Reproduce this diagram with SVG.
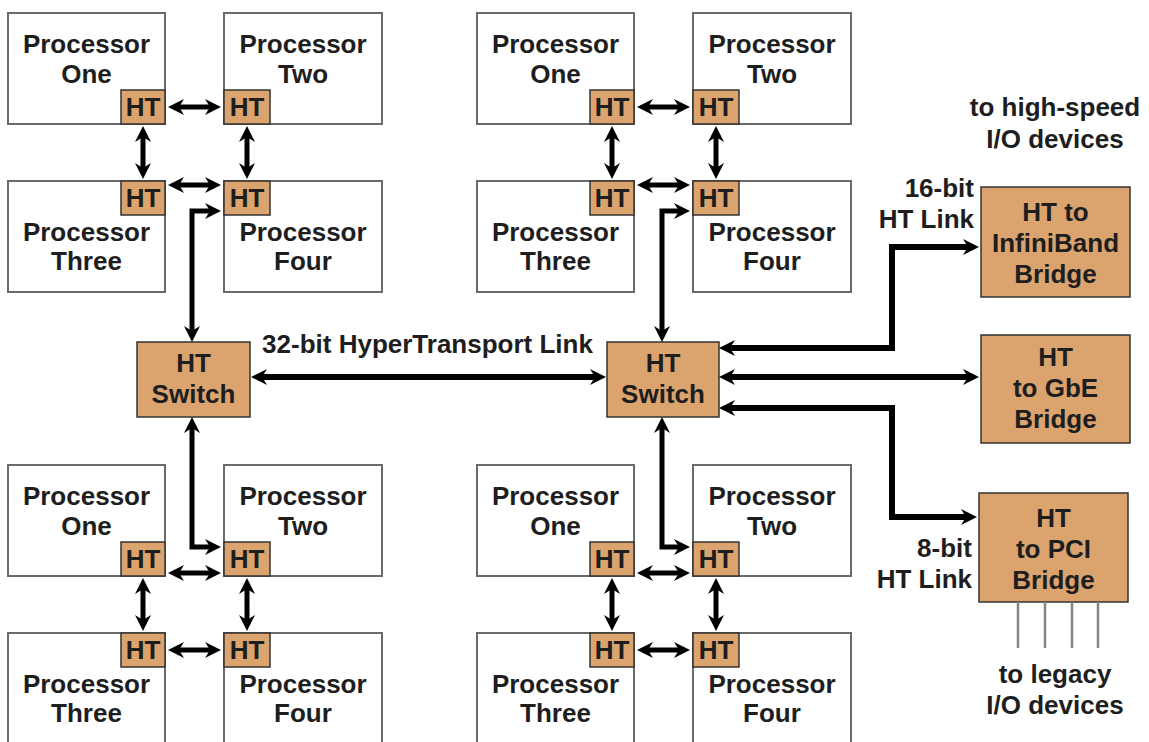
<svg xmlns="http://www.w3.org/2000/svg" width="1149" height="742" viewBox="0 0 1149 742">
<style>
.proc{fill:#fff;stroke:#6a6a6a;stroke-width:2}
.ht{fill:#DBA36E;stroke:#333;stroke-width:1.5}
.t{font-family:"Liberation Sans",Arial,sans-serif;font-weight:bold;font-size:26px;fill:#1e1e1e;text-anchor:middle}
.te{text-anchor:end}
.a{fill:none;stroke:#000;stroke-width:5;marker-start:url(#ah);marker-end:url(#ah)}
.b{fill:none;stroke:#000;stroke-width:6;marker-start:url(#ah);marker-end:url(#ah)}
.b1{fill:none;stroke:#000;stroke-width:6;marker-end:url(#ah)}
.b0{fill:none;stroke:#000;stroke-width:6;marker-start:url(#ah)}
.leg{stroke:#858585;stroke-width:2.5}
</style>
<defs>
<marker id="ah" viewBox="0 0 16 16" markerWidth="16" markerHeight="16" refX="6" refY="8" orient="auto-start-reverse" markerUnits="userSpaceOnUse">
<path d="M0,0 L16,8 L0,16 L5,8 z" fill="#000"/>
</marker>
</defs>
<rect width="1149" height="742" fill="#fff"/>

<!-- top-left cluster -->
<g id="tl-p1"><rect class="proc" x="8" y="13" width="157" height="111"/><text class="t" x="86.5" y="53">Processor</text><text class="t" x="86.5" y="83">One</text>
<g id="tl-p1-ht"><rect class="ht" x="121" y="90" width="44" height="34"/><text class="t" x="143" y="116">HT</text></g></g>
<g id="tl-p2"><rect class="proc" x="224" y="13" width="158" height="111"/><text class="t" x="303" y="53">Processor</text><text class="t" x="303" y="83">Two</text>
<g id="tl-p2-ht"><rect class="ht" x="224" y="90" width="46" height="34"/><text class="t" x="247" y="116">HT</text></g></g>
<g id="tl-p3"><rect class="proc" x="8" y="181" width="157" height="111"/><text class="t" x="86.5" y="241">Processor</text><text class="t" x="86.5" y="270">Three</text>
<g id="tl-p3-ht"><rect class="ht" x="121" y="181" width="44" height="34"/><text class="t" x="143" y="207">HT</text></g></g>
<g id="tl-p4"><rect class="proc" x="224" y="181" width="158" height="111"/><text class="t" x="303" y="241">Processor</text><text class="t" x="303" y="270">Four</text>
<g id="tl-p4-ht"><rect class="ht" x="224" y="181" width="46" height="34"/><text class="t" x="247" y="207">HT</text></g></g>

<!-- top-right cluster -->
<g id="tr-p1"><rect class="proc" x="477" y="13" width="157" height="111"/><text class="t" x="555.5" y="53">Processor</text><text class="t" x="555.5" y="83">One</text>
<g id="tr-p1-ht"><rect class="ht" x="590" y="90" width="44" height="34"/><text class="t" x="612" y="116">HT</text></g></g>
<g id="tr-p2"><rect class="proc" x="693" y="13" width="158" height="111"/><text class="t" x="772" y="53">Processor</text><text class="t" x="772" y="83">Two</text>
<g id="tr-p2-ht"><rect class="ht" x="693" y="90" width="46" height="34"/><text class="t" x="716" y="116">HT</text></g></g>
<g id="tr-p3"><rect class="proc" x="477" y="181" width="157" height="111"/><text class="t" x="555.5" y="241">Processor</text><text class="t" x="555.5" y="270">Three</text>
<g id="tr-p3-ht"><rect class="ht" x="590" y="181" width="44" height="34"/><text class="t" x="612" y="207">HT</text></g></g>
<g id="tr-p4"><rect class="proc" x="693" y="181" width="158" height="111"/><text class="t" x="772" y="241">Processor</text><text class="t" x="772" y="270">Four</text>
<g id="tr-p4-ht"><rect class="ht" x="693" y="181" width="46" height="34"/><text class="t" x="716" y="207">HT</text></g></g>

<!-- bottom-left cluster -->
<g id="bl-p1"><rect class="proc" x="8" y="465" width="157" height="111"/><text class="t" x="86.5" y="505">Processor</text><text class="t" x="86.5" y="535">One</text>
<g id="bl-p1-ht"><rect class="ht" x="121" y="542" width="44" height="34"/><text class="t" x="143" y="568">HT</text></g></g>
<g id="bl-p2"><rect class="proc" x="224" y="465" width="158" height="111"/><text class="t" x="303" y="505">Processor</text><text class="t" x="303" y="535">Two</text>
<g id="bl-p2-ht"><rect class="ht" x="224" y="542" width="46" height="34"/><text class="t" x="247" y="568">HT</text></g></g>
<g id="bl-p3"><rect class="proc" x="8" y="633" width="157" height="111"/><text class="t" x="86.5" y="693">Processor</text><text class="t" x="86.5" y="722">Three</text>
<g id="bl-p3-ht"><rect class="ht" x="121" y="633" width="44" height="34"/><text class="t" x="143" y="659">HT</text></g></g>
<g id="bl-p4"><rect class="proc" x="224" y="633" width="158" height="111"/><text class="t" x="303" y="693">Processor</text><text class="t" x="303" y="722">Four</text>
<g id="bl-p4-ht"><rect class="ht" x="224" y="633" width="46" height="34"/><text class="t" x="247" y="659">HT</text></g></g>

<!-- bottom-right cluster -->
<g id="br-p1"><rect class="proc" x="477" y="465" width="157" height="111"/><text class="t" x="555.5" y="505">Processor</text><text class="t" x="555.5" y="535">One</text>
<g id="br-p1-ht"><rect class="ht" x="590" y="542" width="44" height="34"/><text class="t" x="612" y="568">HT</text></g></g>
<g id="br-p2"><rect class="proc" x="693" y="465" width="158" height="111"/><text class="t" x="772" y="505">Processor</text><text class="t" x="772" y="535">Two</text>
<g id="br-p2-ht"><rect class="ht" x="693" y="542" width="46" height="34"/><text class="t" x="716" y="568">HT</text></g></g>
<g id="br-p3"><rect class="proc" x="477" y="633" width="157" height="111"/><text class="t" x="555.5" y="693">Processor</text><text class="t" x="555.5" y="722">Three</text>
<g id="br-p3-ht"><rect class="ht" x="590" y="633" width="44" height="34"/><text class="t" x="612" y="659">HT</text></g></g>
<g id="br-p4"><rect class="proc" x="693" y="633" width="158" height="111"/><text class="t" x="772" y="693">Processor</text><text class="t" x="772" y="722">Four</text>
<g id="br-p4-ht"><rect class="ht" x="693" y="633" width="46" height="34"/><text class="t" x="716" y="659">HT</text></g></g>

<!-- switches -->
<g id="switch-left"><rect class="ht" x="137" y="342" width="113" height="75"/><text class="t" x="193.5" y="372">HT</text><text class="t" x="193.5" y="403">Switch</text></g>
<g id="switch-right"><rect class="ht" x="607" y="342" width="112" height="75"/><text class="t" x="663" y="372">HT</text><text class="t" x="663" y="403">Switch</text></g>

<!-- bridges -->
<g id="bridge-ib"><rect class="ht" x="981" y="187" width="149" height="110"/><text class="t" x="1055.5" y="221">HT to</text><text class="t" x="1055.5" y="252">InfiniBand</text><text class="t" x="1055.5" y="283">Bridge</text></g>
<g id="bridge-gbe"><rect class="ht" x="981" y="335" width="149" height="108"/><text class="t" x="1055.5" y="366">HT</text><text class="t" x="1055.5" y="397">to GbE</text><text class="t" x="1055.5" y="428">Bridge</text></g>
<g id="bridge-pci"><rect class="ht" x="979" y="493" width="149" height="109"/><text class="t" x="1053.5" y="527">HT</text><text class="t" x="1053.5" y="558">to PCI</text><text class="t" x="1053.5" y="589">Bridge</text></g>

<!-- labels -->
<g id="labels">
<text class="t" x="427.5" y="353">32-bit HyperTransport Link</text>
<text class="t" x="1055" y="116">to high-speed</text>
<text class="t" x="1055" y="148">I/O devices</text>
<text class="t te" x="974" y="197">16-bit</text>
<text class="t te" x="974" y="228">HT Link</text>
<text class="t te" x="972" y="557">8-bit</text>
<text class="t te" x="972" y="588">HT Link</text>
<text class="t" x="1055" y="683">to legacy</text>
<text class="t" x="1055" y="714">I/O devices</text>
</g>

<!-- connectors -->
<g id="connectors">
<path class="a" d="M178,107 H211"/>
<path class="a" d="M143,136 V169"/>
<path class="a" d="M247,136 V169"/>
<path class="a" d="M178,185 H211"/>
<path class="a" d="M192,332 V211 H211"/>

<path class="a" d="M647,107 H680"/>
<path class="a" d="M612,136 V169"/>
<path class="a" d="M716,136 V169"/>
<path class="a" d="M647,185 H680"/>
<path class="a" d="M662,332 V211 H680"/>

<path class="a" d="M178,573 H211"/>
<path class="a" d="M143,588 V621"/>
<path class="a" d="M247,588 V621"/>
<path class="a" d="M178,650 H211"/>
<path class="a" d="M192,427 V547 H211"/>

<path class="a" d="M647,573 H680"/>
<path class="a" d="M612,588 V621"/>
<path class="a" d="M716,588 V621"/>
<path class="a" d="M647,650 H680"/>
<path class="a" d="M662,427 V547 H680"/>

<path class="b" d="M261,377 H596"/>
<path class="b" d="M729,348 H892 V247 H969"/>
<path class="b" d="M729,377 H969"/>
<path class="b" d="M729,408 H892 V517 H967"/>

<line class="leg" x1="1018" y1="602" x2="1018" y2="648"/>
<line class="leg" x1="1045" y1="602" x2="1045" y2="648"/>
<line class="leg" x1="1072" y1="602" x2="1072" y2="648"/>
<line class="leg" x1="1098" y1="602" x2="1098" y2="648"/>
</g>
</svg>
